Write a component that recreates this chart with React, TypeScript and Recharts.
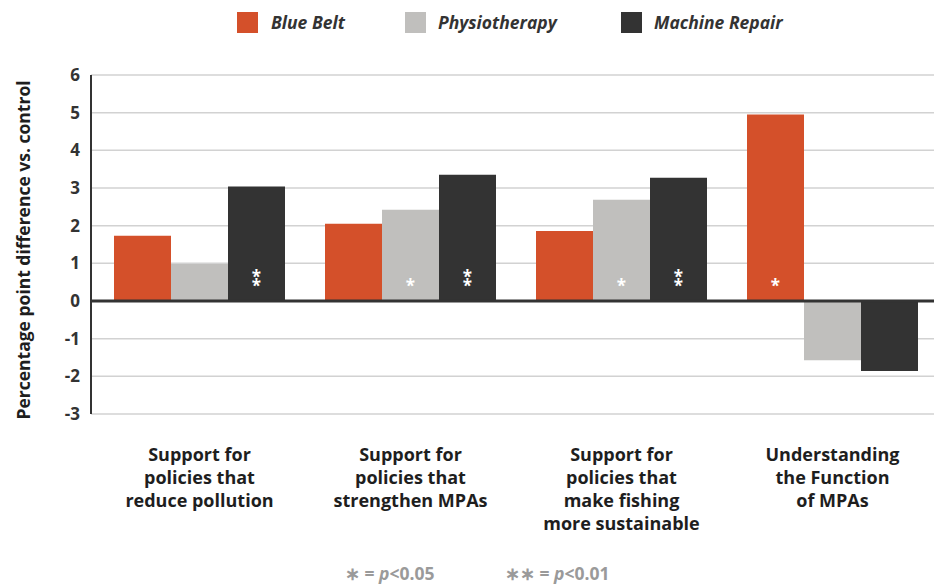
import React from "react";
import {
  BarChart,
  Bar,
  XAxis,
  YAxis,
  CartesianGrid,
  ReferenceLine,
  Legend,
  LabelList,
} from "recharts";

const categories = [
  "Support for|policies that|reduce pollution",
  "Support for|policies that|strengthen MPAs",
  "Support for|policies that|make fishing|more sustainable",
  "Understanding|the Function|of MPAs",
];
const blueBelt = [1.73, 2.05, 1.86, 4.95];
const physiotherapy = [0.98, 2.42, 2.69, -1.57];
const machineRepair = [3.04, 3.35, 3.27, -1.86];
const blueBeltSig = ["", "", "", "*"];
const physiotherapySig = ["", "*", "*", ""];
const machineRepairSig = ["**", "**", "**", ""];
const yTicks = [-3, -2, -1, 0, 1, 2, 3, 4, 5, 6];
const seriesNames = ["Blue Belt", "Physiotherapy", "Machine Repair"];
const yLabel = "Percentage point difference vs. control";
const footnotes = ["∗ = ", "p", "<0.05", "∗∗ = ", "p", "<0.01"];

const COLORS = ["#d4502a", "#c0bfbd", "#333333"];
const FONT = "'Open Sans', 'Noto Sans', sans-serif";

const data = categories.map((c, i) => ({
  category: c,
  blueBelt: blueBelt[i],
  physiotherapy: physiotherapy[i],
  machineRepair: machineRepair[i],
  blueBeltSig: blueBeltSig[i],
  physiotherapySig: physiotherapySig[i],
  machineRepairSig: machineRepairSig[i],
}));

const SigLabel = (props: any) => {
  const { x, y, width, height, value } = props;
  if (!value) return null;
  const zero = height >= 0 ? y + height : y;
  const cx = x + width / 2;
  const n = String(value).length;
  const centers = n === 2 ? [zero - 27, zero - 18] : [zero - 18];
  return (
    <text
      x={centers.map(() => cx).join(" ")}
      y={centers.map((c) => c + 9).join(" ")}
      textAnchor="middle"
      fill="#ffffff"
      fontSize={17}
      fontWeight={700}
      fontFamily={FONT}
    >
      {value}
    </text>
  );
};

const CategoryTick = (props: any) => {
  const { x, payload } = props;
  const lines = String(payload.value).split("|");
  return (
    <text
      x={x}
      y={461}
      textAnchor="middle"
      fill="#1e1e1e"
      fontSize={18}
      fontWeight={700}
      fontFamily={FONT}
    >
      {lines.map((l, i) => (
        <tspan key={i} x={x} dy={i === 0 ? 0 : 23}>
          {l}
        </tspan>
      ))}
    </text>
  );
};

const YLabel = () => (
  <text
    x={0}
    y={0}
    transform="translate(30, 250) rotate(-90)"
    textAnchor="middle"
    fill="#1e1e1e"
    fontSize={17.5}
    fontWeight={700}
    fontFamily={FONT}
  >
    {yLabel}
  </text>
);

const legendPos = [
  { sq: 237, tx: 271 },
  { sq: 405, tx: 438 },
  { sq: 621, tx: 654 },
];

const LegendContent = () => (
  <div style={{ position: "relative", width: 934, height: 40 }}>
    {seriesNames.map((n, i) => (
      <React.Fragment key={n}>
        <div
          style={{
            position: "absolute",
            left: legendPos[i].sq,
            top: 12,
            width: 21,
            height: 21,
            background: COLORS[i],
          }}
        />
        <div
          style={{
            position: "absolute",
            left: legendPos[i].tx,
            top: 10,
            fontFamily: FONT,
            fontStyle: "italic",
            fontWeight: 700,
            fontSize: 17.5,
            color: "#333",
            lineHeight: "24px",
            whiteSpace: "nowrap",
          }}
        >
          {n}
        </div>
      </React.Fragment>
    ))}
  </div>
);

const Footnotes = () => (
  <svg
    width={934}
    height={40}
    style={{ position: "absolute", left: 0, top: 545 }}
  >
    <text
      x={345}
      y={35}
      fontFamily={FONT}
      fontWeight={700}
      fontSize={17.5}
      fill="#9a9a9a"
    >
      {footnotes[0]}
      <tspan fontStyle="italic">{footnotes[1]}</tspan>
      {footnotes[2]}
    </text>
    <text
      x={505}
      y={35}
      fontFamily={FONT}
      fontWeight={700}
      fontSize={17.5}
      fill="#9a9a9a"
    >
      {footnotes[3]}
      <tspan fontStyle="italic">{footnotes[4]}</tspan>
      {footnotes[5]}
    </text>
  </svg>
);

export default function App() {
  return (
    <div
      style={{
        position: "absolute",
        left: 0,
        top: 0,
        width: 934,
        height: 585,
        background: "#fff",
        overflow: "hidden",
      }}
    >
      <BarChart
        width={934}
        height={585}
        data={data}
        margin={{ top: 35, right: -4, bottom: 141, left: 0 }}
        barSize={57}
        barGap={0}
      >
        <CartesianGrid
          horizontal
          vertical={false}
          stroke="#d2d2d2"
          strokeWidth={1.5}
        />
        <XAxis
          dataKey="category"
          axisLine={false}
          tickLine={false}
          tick={<CategoryTick />}
          interval={0}
          padding={{ left: 3, right: 0 }}
        />
        <YAxis
          width={91}
          domain={[-3, 6]}
          ticks={yTicks}
          interval={0}
          axisLine={{ stroke: "#333", strokeWidth: 2 }}
          tickLine={false}
          tickSize={6}
          tickMargin={5}
          tick={{
            fill: "#333",
            fontSize: 17,
            fontWeight: 700,
            fontFamily: FONT,
          }}
          label={<YLabel />}
        />
        <Legend
          verticalAlign="top"
          wrapperStyle={{ position: "absolute", top: 0, left: 0, width: 934 }}
          content={<LegendContent />}
        />
        <Bar
          dataKey="blueBelt"
          name={seriesNames[0]}
          fill={COLORS[0]}
          isAnimationActive={false}
        >
          <LabelList dataKey="blueBeltSig" content={<SigLabel />} />
        </Bar>
        <Bar
          dataKey="physiotherapy"
          name={seriesNames[1]}
          fill={COLORS[1]}
          isAnimationActive={false}
        >
          <LabelList dataKey="physiotherapySig" content={<SigLabel />} />
        </Bar>
        <Bar
          dataKey="machineRepair"
          name={seriesNames[2]}
          fill={COLORS[2]}
          isAnimationActive={false}
        >
          <LabelList dataKey="machineRepairSig" content={<SigLabel />} />
        </Bar>
        <ReferenceLine y={0} stroke="#333" strokeWidth={3} />
      </BarChart>
      <Footnotes />
    </div>
  );
}
